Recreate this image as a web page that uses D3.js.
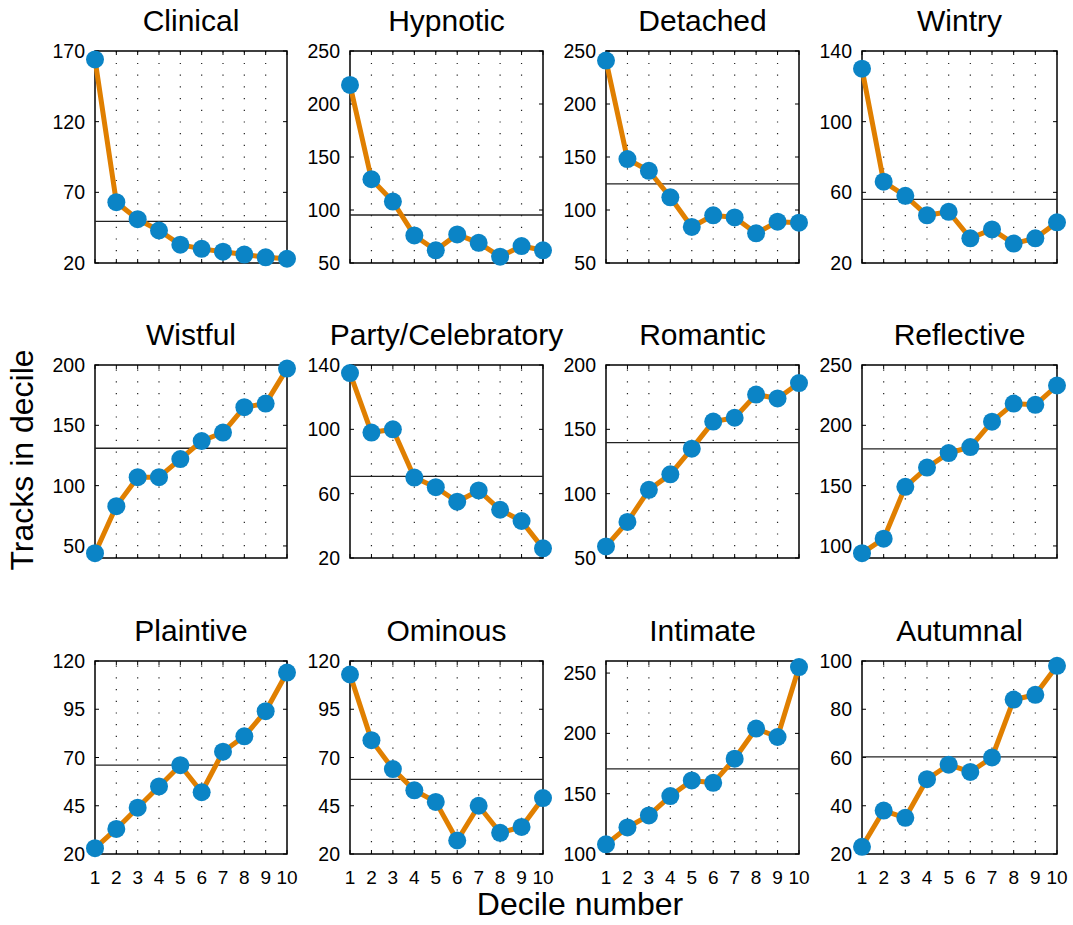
<!DOCTYPE html>
<html>
<head>
<meta charset="utf-8">
<script src="https://cdn.jsdelivr.net/npm/d3@7"></script>
<style>
  body { margin: 0; background: #fff; }
  text { font-family: "Liberation Sans", Arial, sans-serif; fill: #000; }
</style>
</head>
<body>
<svg width="1073" height="925"></svg>
<script>
// deciles on x axis
var deciles = [1, 2, 3, 4, 5, 6, 7, 8, 9, 10];
var moods = ["Clinical", "Hypnotic", "Detached", "Wintry",
             "Wistful", "Party/Celebratory", "Romantic", "Reflective",
             "Plaintive", "Ominous", "Intimate", "Autumnal"];

// tracks per decile, one array per mood
var clinical   = [164, 63, 51, 43, 33, 30, 28, 26, 24, 23];
var hypnotic   = [218, 129, 108, 76, 62, 77, 69, 56, 66, 62];
var detached   = [241, 148, 137, 112, 84, 95, 93, 78, 89, 88];
var wintry     = [130, 66, 58, 47, 49, 34, 39, 31, 34, 43];
var wistful    = [44, 83, 107, 107, 122, 137, 144, 165, 168, 197];
var party      = [135, 98, 100, 70, 64, 55, 62, 50, 43, 26];
var romantic   = [59, 78, 103, 115, 135, 156, 159, 177, 174, 186];
var reflective = [94, 106, 149, 165, 177, 182, 203, 218, 217, 233];
var plaintive  = [23, 33, 44, 55, 66, 52, 73, 81, 94, 114];
var ominous    = [113, 79, 64, 53, 47, 27, 45, 31, 34, 49];
var intimate   = [108, 122, 132, 148, 161, 159, 179, 204, 197, 255];
var autumnal   = [23, 38, 35, 51, 57, 54, 60, 84, 86, 98];

// horizontal reference line (average) per panel
var meanLine = [49.4, 95.3, 124.7, 56, 131, 70.7, 139.7, 180.5, 66.1, 58.7, 170.5, 60.3];

var yLimits = [[20, 170], [50, 250], [50, 250], [20, 140],
               [40, 200], [20, 140], [50, 200], [90, 250],
               [20, 120], [20, 120], [100, 260], [20, 100]];
var yTicks = [[20, 70, 120, 170], [50, 100, 150, 200, 250], [50, 100, 150, 200, 250], [20, 60, 100, 140],
              [50, 100, 150, 200], [20, 60, 100, 140], [50, 100, 150, 200], [100, 150, 200, 250],
              [20, 45, 70, 95, 120], [20, 45, 70, 95, 120], [100, 150, 200, 250], [20, 40, 60, 80, 100]];

var series = [clinical, hypnotic, detached, wintry, wistful, party,
              romantic, reflective, plaintive, ominous, intimate, autumnal];

var colLeft = [95, 350, 606, 862];
var colRight = [287, 543, 799, 1057];
var rowTop = [51, 365, 661];
var rowBottom = [263, 558, 854];

var orange = "#e07f00";
var blue = "#0b84c6";

var svg = d3.select("svg");

series.forEach(function (vals, i) {
  var r = Math.floor(i / 4), c = i % 4;
  var x = d3.scaleLinear().domain([1, 10]).range([colLeft[c], colRight[c]]);
  var y = d3.scaleLinear().domain(yLimits[i]).range([rowBottom[r], rowTop[r]]);
  var g = svg.append("g");

  // dotted vertical grid
  g.selectAll(".grid")
    .data(deciles.slice(1, 9))
    .enter()
    .append("line")
    .attr("x1", function (d) { return x(d); })
    .attr("x2", function (d) { return x(d); })
    .attr("y1", rowBottom[r])
    .attr("y2", rowTop[r])
    .attr("stroke", "#222")
    .attr("stroke-width", 1.2)
    .attr("stroke-dasharray", "1.2,10.5");

  // tick marks, inward on all sides
  yTicks[i].forEach(function (t) {
    g.append("line").attr("x1", colLeft[c]).attr("x2", colLeft[c] + 4)
      .attr("y1", y(t)).attr("y2", y(t)).attr("stroke", "#000");
    g.append("line").attr("x1", colRight[c]).attr("x2", colRight[c] - 4)
      .attr("y1", y(t)).attr("y2", y(t)).attr("stroke", "#000");
  });
  deciles.forEach(function (d) {
    g.append("line").attr("x1", x(d)).attr("x2", x(d))
      .attr("y1", rowBottom[r]).attr("y2", rowBottom[r] - 4).attr("stroke", "#000");
    g.append("line").attr("x1", x(d)).attr("x2", x(d))
      .attr("y1", rowTop[r]).attr("y2", rowTop[r] + 4).attr("stroke", "#000");
  });

  // box
  g.append("rect")
    .attr("x", colLeft[c]).attr("y", rowTop[r])
    .attr("width", colRight[c] - colLeft[c])
    .attr("height", rowBottom[r] - rowTop[r])
    .attr("fill", "none").attr("stroke", "#000").attr("stroke-width", 1.5);

  // y tick labels
  g.selectAll(".ylab")
    .data(yTicks[i])
    .enter()
    .append("text")
    .attr("x", colLeft[c] - 10)
    .attr("y", function (d) { return y(d); })
    .attr("dy", "0.36em")
    .attr("text-anchor", "end")
    .style("font-size", "19.5px")
    .text(function (d) { return d; });

  // x tick labels on bottom row
  if (r == 2) {
    g.selectAll(".xlab")
      .data(deciles)
      .enter()
      .append("text")
      .attr("x", function (d) { return x(d); })
      .attr("y", rowBottom[r] + 23)
      .attr("dy", "0.36em")
      .attr("text-anchor", "middle")
      .style("font-size", "19px")
      .text(function (d) { return d; });
  }

  // mean line
  g.append("line")
    .attr("x1", colLeft[c]).attr("x2", colRight[c])
    .attr("y1", y(meanLine[i])).attr("y2", y(meanLine[i]))
    .attr("stroke", "#222").attr("stroke-width", 1.3);

  // data line + markers
  var line = d3.line()
    .x(function (d, k) { return x(deciles[k]); })
    .y(function (d) { return y(d); });
  g.append("path")
    .datum(vals)
    .attr("d", line)
    .attr("fill", "none")
    .attr("stroke", orange)
    .attr("stroke-width", 5)
    .attr("stroke-linejoin", "round");
  g.selectAll(".pt")
    .data(vals)
    .enter()
    .append("circle")
    .attr("cx", function (d, k) { return x(deciles[k]); })
    .attr("cy", function (d) { return y(d); })
    .attr("r", 9)
    .attr("fill", blue);

  // title
  g.append("text")
    .attr("x", (colLeft[c] + colRight[c]) / 2)
    .attr("y", rowTop[r] - 20)
    .attr("text-anchor", "middle")
    .style("font-size", "30px")
    .text(moods[i]);
});

svg.append("text")
  .attr("x", 580).attr("y", 915)
  .attr("text-anchor", "middle")
  .style("font-size", "32px")
  .text("Decile number");

svg.append("text")
  .attr("transform", "translate(33,460) rotate(-90)")
  .attr("text-anchor", "middle")
  .style("font-size", "32px")
  .text("Tracks in decile");
</script>
</body>
</html>
